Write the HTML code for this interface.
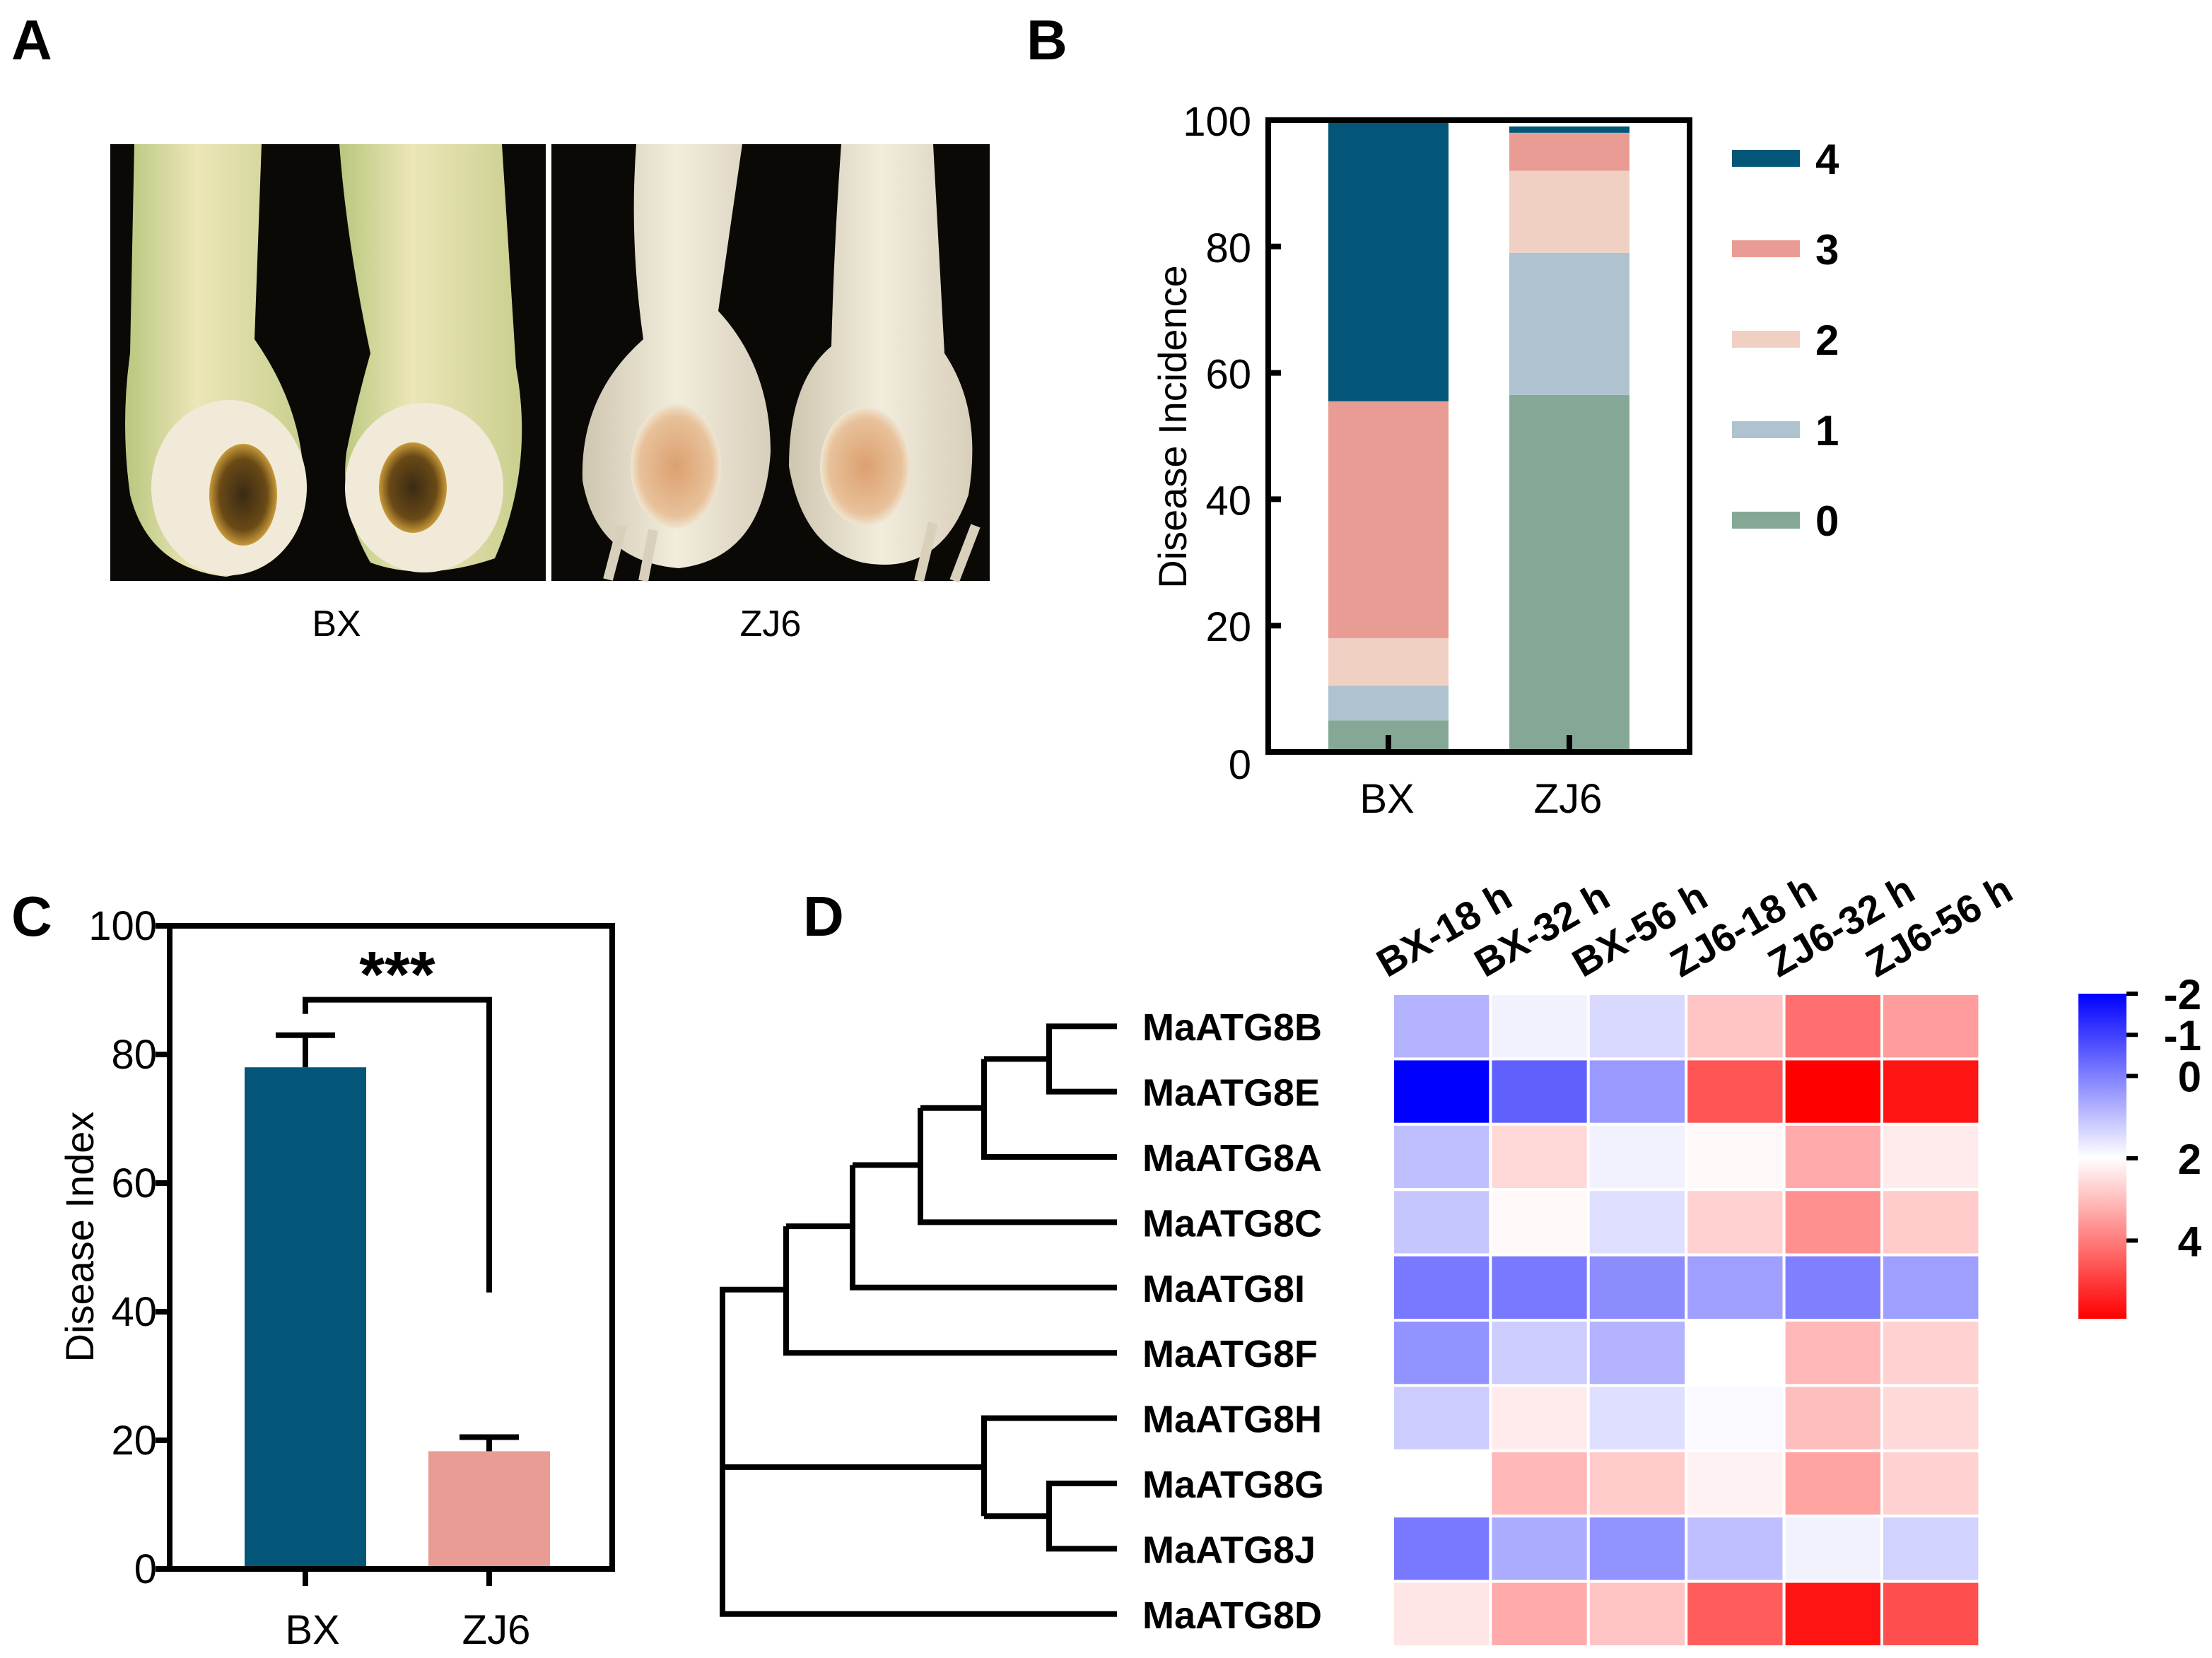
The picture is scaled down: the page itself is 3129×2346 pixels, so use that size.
<!DOCTYPE html>
<html><head><meta charset="utf-8"><style>
html,body{margin:0;padding:0;background:#fff;}
svg{display:block;}
text{font-family:"Liberation Sans",Arial,sans-serif;}
</style></head><body>
<svg id="fig" width="3129" height="2346" viewBox="0 0 1564.5 1173" xmlns="http://www.w3.org/2000/svg">
<defs>
<linearGradient id="stemG" x1="0" x2="1"><stop offset="0" stop-color="#b9c77e"/><stop offset="0.4" stop-color="#ece6b8"/><stop offset="1" stop-color="#c9cf8e"/></linearGradient>
<linearGradient id="stemW" x1="0" x2="1"><stop offset="0" stop-color="#cfc6b0"/><stop offset="0.5" stop-color="#f1ecdc"/><stop offset="1" stop-color="#d8cfbb"/></linearGradient>
<radialGradient id="lesD"><stop offset="0" stop-color="#3a2a14"/><stop offset="0.7" stop-color="#6a4a16"/><stop offset="1" stop-color="#c89a3a"/></radialGradient>
<radialGradient id="lesL"><stop offset="0" stop-color="#dca070"/><stop offset="0.8" stop-color="#e8c19a"/><stop offset="1" stop-color="#f0e6d2"/></radialGradient>
<linearGradient id="cbar" x1="0" y1="0" x2="0" y2="1">
<stop offset="0" stop-color="#0000ff"/><stop offset="0.505" stop-color="#ffffff"/><stop offset="1" stop-color="#ff0000"/></linearGradient>
</defs>

<text x="8" y="42" font-size="40" font-weight="bold">A</text>
<text x="726" y="42" font-size="40" font-weight="bold">B</text>
<text x="8" y="662" font-size="40" font-weight="bold">C</text>
<text x="568" y="662" font-size="40" font-weight="bold">D</text>

<g>
<rect x="78" y="102" width="308" height="309" fill="#0b0906"/>
<path d="M95 102 L185 102 L180 240 Q215 290 215 345 Q205 400 160 408 Q105 402 92 350 Q85 300 92 250 Z" fill="url(#stemG)"/>
<path d="M240 102 L355 102 L365 260 Q378 330 350 395 Q300 412 262 398 Q240 360 245 320 Q252 285 262 250 Q245 170 240 102Z" fill="url(#stemG)"/>
<ellipse cx="162" cy="345" rx="55" ry="62" fill="#f2ead8"/>
<ellipse cx="300" cy="345" rx="56" ry="60" fill="#f2ead8"/>
<ellipse cx="172" cy="350" rx="24" ry="36" fill="url(#lesD)"/>
<ellipse cx="292" cy="345" rx="24" ry="32" fill="url(#lesD)"/>
</g>
<rect x="386" y="102" width="4" height="309" fill="#fff"/>
<g>
<rect x="390" y="102" width="310" height="309" fill="#0b0906"/>
<path d="M450 102 L525 102 L508 220 Q545 260 545 320 Q540 395 480 402 Q422 397 412 340 Q410 280 455 240 Q445 170 450 102Z" fill="url(#stemW)"/>
<path d="M595 102 L660 102 L668 250 Q695 290 685 350 Q665 408 610 398 Q568 388 558 330 Q558 270 588 245 Q590 170 595 102Z" fill="url(#stemW)"/>
<ellipse cx="478" cy="330" rx="32" ry="44" fill="url(#lesL)"/>
<ellipse cx="612" cy="330" rx="32" ry="42" fill="url(#lesL)"/>
<path d="M430 410 L440 372 M455 411 L462 375 M650 411 L660 370 M675 411 L690 372" stroke="#d9d0bc" stroke-width="7"/>
</g>
<text x="238" y="450" font-size="26" text-anchor="middle">BX</text>
<text x="545" y="450" font-size="26" text-anchor="middle">ZJ6</text>

<g id="panelB"></g>
<g id="panelC"></g>
<g id="panelD"></g>
</svg>
<script>
// ---------- Panel B data ----------
const bCategories = ["BX", "ZJ6"];
const bLevels = ["0", "1", "2", "3", "4"];
const bBX = [5, 5.5, 7.5, 37.5, 44.5];
const bZJ6 = [56.5, 22.5, 13, 6, 1];
const bTicks = [0, 20, 40, 60, 80, 100];
// ---------- Panel C data ----------
const cCategories = ["BX", "ZJ6"];
const cMeans = [78, 18.3];
const cErrors = [5, 2.2];
const cTicks = [0, 20, 40, 60, 80, 100];
// ---------- Panel D data ----------
const dColumns = ["BX-18 h", "BX-32 h", "BX-56 h", "ZJ6-18 h", "ZJ6-32 h", "ZJ6-56 h"];
const dRows = ["MaATG8B", "MaATG8E", "MaATG8A", "MaATG8C", "MaATG8I", "MaATG8F", "MaATG8H", "MaATG8G", "MaATG8J", "MaATG8D"];
const d8B = [0.8, 1.8, 1.4, 2.9, 4.2, 3.5];
const d8E = [-2, -0.5, 0.4, 4.6, 5.9, 5.6];
const d8A = [1.0, 2.6, 1.8, 2.1, 3.3, 2.3];
const d8C = [1.1, 2.1, 1.5, 2.7, 3.7, 2.8];
const d8I = [-0.1, -0.1, 0.2, 0.5, 0.0, 0.5];
const d8F = [0.3, 1.2, 0.8, 2.0, 3.1, 2.7];
const d8H = [1.2, 2.3, 1.5, 1.9, 3.0, 2.6];
const d8G = [2.0, 3.1, 2.8, 2.2, 3.4, 2.7];
const d8J = [-0.1, 0.7, 0.3, 1.0, 1.8, 1.3];
const d8D = [2.4, 3.3, 2.9, 4.5, 5.6, 4.7];
const dValues = [d8B, d8E, d8A, d8C, d8I, d8F, d8H, d8G, d8J, d8D];
const dScaleTicks = [-2, -1, 0, 2, 4];

const NS = "http://www.w3.org/2000/svg";
function mk(parent, tag, attrs, txt) {
  const e = document.createElementNS(NS, tag);
  for (const k in attrs) e.setAttribute(k, attrs[k]);
  if (txt !== undefined) e.textContent = txt;
  parent.appendChild(e);
  return e;
}

// ---------- Panel B ----------
(function(){
  const g = document.getElementById('panelB');
  const L = 897, R = 1195, T = 85, B = 532;
  const y = v => B - (v / 100) * (B - T);
  const centers = [982, 1110], bw = 85;
  const colors = ["#85a896", "#aec3cf", "#efd0c3", "#e89c94", "#035677"];
  const series = [bBX, bZJ6];
  series.forEach((vals, ci) => {
    let cum = 0;
    vals.forEach((v, li) => {
      const r = mk(g, 'rect', {x: centers[ci] - bw/2, y: y(cum + v), width: bw, height: y(cum) - y(cum + v), fill: colors[li]});
      
      
      cum += v;
    });
  });
  const fr = mk(g, 'rect', {x: L, y: T, width: R - L, height: B - T, fill: 'none', stroke: '#000', 'stroke-width': 4});
  
  
  bTicks.forEach(t => {
    mk(g, 'line', {x1: L, x2: L + 9, y1: y(t), y2: y(t), stroke: '#000', 'stroke-width': 4});
    const tx = mk(g, 'text', {x: 885, y: y(t) + 11 + (t === 0 ? 8 : 0), 'font-size': 29, 'text-anchor': 'end'}, t);
    
    
  });
  bCategories.forEach((c, i) => {
    mk(g, 'line', {x1: centers[i], x2: centers[i], y1: B, y2: B - 12, stroke: '#000', 'stroke-width': 4});
    const tx = mk(g, 'text', {x: centers[i] - 1, y: 575, 'font-size': 29, 'text-anchor': 'middle'}, c);
    
    
  });
  const yt = mk(g, 'text', {x: 0, y: 0, 'font-size': 28, 'text-anchor': 'middle', transform: 'translate(839,302) rotate(-90)'}, 'Disease Incidence');
  
  
  for (let li = 4; li >= 0; li--) {
    const yy = 112 + (4 - li) * 64;
    const sw = mk(g, 'rect', {x: 1225, y: yy - 6, width: 48, height: 12, fill: colors[li]});
    
    
    const lt = mk(g, 'text', {x: 1284, y: yy + 11, 'font-size': 30, 'font-weight': 'bold'}, bLevels[li]);
    
    
  }
})();

// ---------- Panel C ----------
(function(){
  const g = document.getElementById('panelC');
  const L = 120, R = 433, T = 655, B = 1110;
  const y = v => B - (v / 100) * (B - T);
  const centers = [216, 346], bw = 86;
  const colors = ["#035677", "#e89c94"];
  cMeans.forEach((m, i) => {
    const top = m + cErrors[i];
    mk(g, 'line', {x1: centers[i], x2: centers[i], y1: y(m), y2: y(top), stroke: '#000', 'stroke-width': 4});
    mk(g, 'line', {x1: centers[i] - 21, x2: centers[i] + 21, y1: y(top), y2: y(top), stroke: '#000', 'stroke-width': 4});
    const r = mk(g, 'rect', {x: centers[i] - bw/2, y: y(m), width: bw, height: B - y(m), fill: colors[i]});
    
    
  });
  const ax = mk(g, 'path', {d: `M${L} ${T} L${R} ${T} L${R} ${B} L${L} ${B} Z`, fill: 'none', stroke: '#000', 'stroke-width': 4});
  
  
  cTicks.forEach(t => {
    mk(g, 'line', {x1: L - 10, x2: L, y1: y(t), y2: y(t), stroke: '#000', 'stroke-width': 4});
    const tx = mk(g, 'text', {x: 111, y: y(t) + 10, 'font-size': 29, 'text-anchor': 'end'}, t);
    
    
  });
  cCategories.forEach((c, i) => {
    mk(g, 'line', {x1: centers[i], x2: centers[i], y1: B, y2: B + 12, stroke: '#000', 'stroke-width': 4});
    const tx = mk(g, 'text', {x: centers[i] + 5, y: 1163, 'font-size': 29, 'text-anchor': 'middle'}, c);
    
    
  });
  const yt = mk(g, 'text', {x: 0, y: 0, 'font-size': 28, 'text-anchor': 'middle', transform: 'translate(66,875) rotate(-90)'}, 'Disease Index');
  
  
  const bracketY = y(88.5);
  const br = mk(g, 'path', {d: `M${centers[0]} ${bracketY + 10} L${centers[0]} ${bracketY} L${centers[1]} ${bracketY} L${centers[1]} ${y(43)}`, fill: 'none', stroke: '#000', 'stroke-width': 4});
  
  
  const st = mk(g, 'text', {x: 281, y: bracketY - 2, 'font-size': 46, 'font-weight': 'bold', 'text-anchor': 'middle'}, '***');
  
  
})();

// ---------- Panel D ----------
(function(){
  const g = document.getElementById('panelD');
  const X0 = 985, Y0 = 703, cw = 69.2, ch = 46.2;
  const vmin = -2, vmid = 2, vmax = 5.9;
  function color(v) {
    let r, gg, b;
    if (v <= vmid) { const t = Math.max(0, (vmid - v) / (vmid - vmin)); r = 255 * (1 - t); gg = 255 * (1 - t); b = 255; }
    else { const t = Math.min(1, (v - vmid) / (vmax - vmid)); r = 255; gg = 255 * (1 - t); b = 255 * (1 - t); }
    return `rgb(${Math.round(r)},${Math.round(gg)},${Math.round(b)})`;
  }
  dValues.forEach((row, ri) => {
    row.forEach((v, ci) => {
      const c = mk(g, 'rect', {x: X0 + ci * cw, y: Y0 + ri * ch, width: cw, height: ch, fill: color(v), stroke: '#fff', 'stroke-width': 2});
      
      
    });
    const lt = mk(g, 'text', {x: 808, y: Y0 + ri * ch + ch/2 + 10, 'font-size': 27, 'font-weight': 'bold'}, dRows[ri]);
    
    
  });
  dColumns.forEach((c, ci) => {
    const x = X0 + ci * cw - 4, yy = 692;
    const t = mk(g, 'text', {x: 0, y: 0, 'font-size': 28, 'font-weight': 'bold', transform: `translate(${x},${yy}) rotate(-30)`}, c);
    
    
  });
  const rc = i => Y0 + i * ch + ch/2;
  const segs = [];
  const leafX = 790;
  const j1 = 742, j2 = 696, j3 = 651, j4 = 603, j5 = 556, jr = 511;
  const mBE = (rc(0) + rc(1)) / 2, mA = (mBE + rc(2)) / 2, mC = (mA + rc(3)) / 2, mI = (mC + rc(4)) / 2, mF = (mI + rc(5)) / 2;
  const mGJ = (rc(7) + rc(8)) / 2, mH = (rc(6) + mGJ) / 2;
  segs.push(`M${leafX} ${rc(0)} H${j1} V${rc(1)} H${leafX}`);
  segs.push(`M${j1} ${mBE} H${j2} M${leafX} ${rc(2)} H${j2} V${mBE}`);
  segs.push(`M${j2} ${mA} H${j3} M${leafX} ${rc(3)} H${j3} V${mA}`);
  segs.push(`M${j3} ${mC} H${j4} M${leafX} ${rc(4)} H${j4} V${mC}`);
  segs.push(`M${j4} ${mI} H${j5} M${leafX} ${rc(5)} H${j5} V${mI}`);
  segs.push(`M${leafX} ${rc(7)} H${j1} V${rc(8)} H${leafX}`);
  segs.push(`M${j1} ${mGJ} H${j2} M${leafX} ${rc(6)} H${j2} V${mGJ}`);
  segs.push(`M${j5} ${mF} H${jr} V${rc(9)} H${leafX} M${jr} ${mH} H${j2}`);
  const dp = mk(g, 'path', {d: segs.join(' '), fill: 'none', stroke: '#000', 'stroke-width': 4});
  
  
  const cbT = 703, cbB = 933, cbX = 1470, cbW = 34;
  const cy = v => cbT + (v - vmin) / (vmax - vmin) * (cbB - cbT);
  const cb = mk(g, 'rect', {x: cbX, y: cbT, width: cbW, height: cbB - cbT, fill: 'url(#cbar)'});
  
  
  dScaleTicks.forEach(t => {
    mk(g, 'line', {x1: cbX + cbW, x2: cbX + cbW + 8, y1: cy(t), y2: cy(t), stroke: '#000', 'stroke-width': 3});
    const tx = mk(g, 'text', {x: 1557, y: cy(t) + 11, 'font-size': 30, 'font-weight': 'bold', 'text-anchor': 'end'}, t);
    
    
  });
})();
</script>
</body></html>
